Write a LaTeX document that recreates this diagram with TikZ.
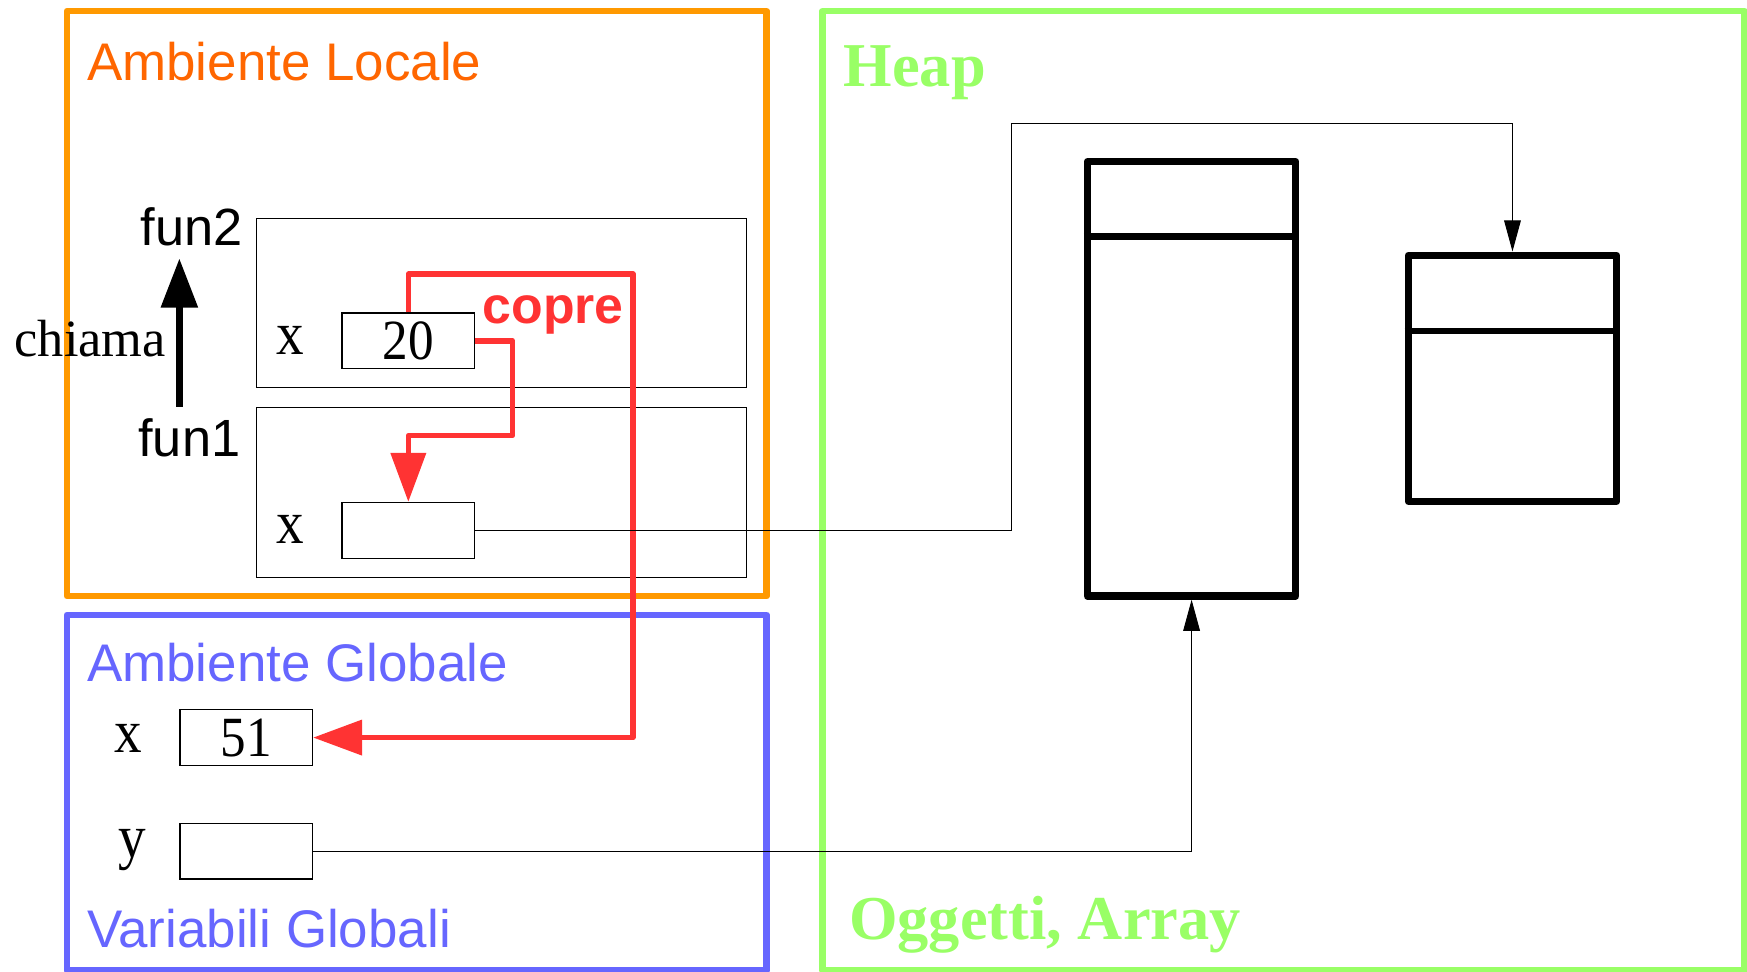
\documentclass[tikz,border=0pt]{standalone}
\usepackage{fontspec}
\setmainfont{Liberation Serif}
\setsansfont{Liberation Sans}
\newfontfamily\narrowserif[FakeStretch=0.9]{Liberation Serif}
\usetikzlibrary{arrows.meta}
\definecolor{frameorange}{HTML}{FF9900}
\definecolor{textorange}{HTML}{FF6600}
\definecolor{redline}{HTML}{FF3333}
\definecolor{bluef}{HTML}{6666FF}
\definecolor{greenf}{HTML}{99FF66}
\begin{document}
\begin{tikzpicture}[x=1pt,y=-1pt,
  every node/.style={inner sep=0pt},
  region/.style={line width=6pt, line join=round},
  frame/.style={draw, line width=1.1pt, minimum width=440pt, minimum height=152pt},
  varbox/.style={draw, line width=1.1pt, minimum width=119pt, minimum height=50pt, font=\narrowserif\fontsize{51}{53}\selectfont},
  obj/.style={draw, line width=6.5pt, line join=round},
  lbl/.style={anchor=base west},
  serifbig/.style={font=\narrowserif\fontsize{55}{57}\selectfont},
  sanslbl/.style={font=\sffamily\fontsize{47.5}{50}\selectfont},
  redarrow/.style={draw=redline, line width=5pt, line join=round, -{Triangle[length=44pt,width=31pt]}},
  ptr/.style={draw, line width=0.9pt, -{Triangle[length=28pt,width=15pt]}},
]
\useasboundingbox (0,0) rectangle (1568,872.4);
% regions
\draw[region, frameorange] (60,10) rectangle (688,535);
\draw[region, bluef] (60,552) rectangle (688,871);
\draw[region, greenf] (738,10) rectangle (1566,871);
% region titles
\node[lbl, sanslbl, text=textorange] (tloc) at (78,72) {Ambiente Locale};
\node[lbl, sanslbl, text=bluef] (tglob) at (78,612) {Ambiente Globale};
\node[lbl, sanslbl, text=bluef] (tvar) at (78,850) {Variabili Globali};
\node[lbl, text=greenf, font=\bfseries\fontsize{56}{58}\selectfont] (theap) at (757,78) {Heap};
\node[lbl, text=greenf, font=\bfseries\fontsize{56}{58}\selectfont] (tobj) at (762,843) {Oggetti, Array};
% stack frames
\node[frame] (f2) at (450,272) {};
\node[frame] (f1) at (450,442) {};
\node[lbl, sanslbl, font=\sffamily\fontsize{47}{50}\selectfont] (lf2) at (126,220) {fun2};
\node[lbl, sanslbl, font=\sffamily\fontsize{47}{50}\selectfont] (lf1) at (124,410) {fun1};
\node[lbl, font=\fontsize{47}{50}\selectfont] (lch) at (13,320) {chiama};
\coordinate (cha) at (161,365);
\coordinate (chb) at (161,232);
\draw[line width=6pt, -{Triangle[length=44pt,width=32pt]}] (cha) -- (chb);
% variables
\node[lbl, serifbig] (lx2) at (248,318) {x};
\node[varbox] (b20) at (366.5,306) {20};
\node[lbl, serifbig] (lx1) at (248,488) {x};
\node[varbox] (bf1) at (366.5,476) {};
\node[lbl, serifbig] (lxg) at (103,675) {x};
\node[varbox] (b51) at (221,662) {51};
\node[lbl, serifbig] (lyg) at (106,770) {y};
\node[varbox] (by) at (221,764) {};
% heap objects
\node[obj, minimum width=187pt, minimum height=390pt] (big) at (1069.5,340) {};
\draw[line width=6pt] (big.west |- 0,212) -- (big.east |- 0,212);
\node[obj, minimum width=187pt, minimum height=221pt] (small) at (1357.5,339.5) {};
\draw[line width=6pt] (small.west |- 0,297) -- (small.east |- 0,297);
% red connectors
\node[lbl, text=redline, font=\sffamily\bfseries\fontsize{46.5}{48}\selectfont] (copre) at (433,290) {copre};
\coordinate (r1) at (568,246);
\coordinate (r2) at (460,391);
\draw[redarrow] (b20.north) |- (r1) |- (b51.east);
\draw[redarrow] (b20.east) -| (r2) -| (bf1.north);
% pointers
\coordinate (k1) at (908,111);
\draw[ptr] (bf1.east) -| (k1) -| (small.north);
\draw[ptr] (by.east) -| (big.south);
\end{tikzpicture}
\end{document}
